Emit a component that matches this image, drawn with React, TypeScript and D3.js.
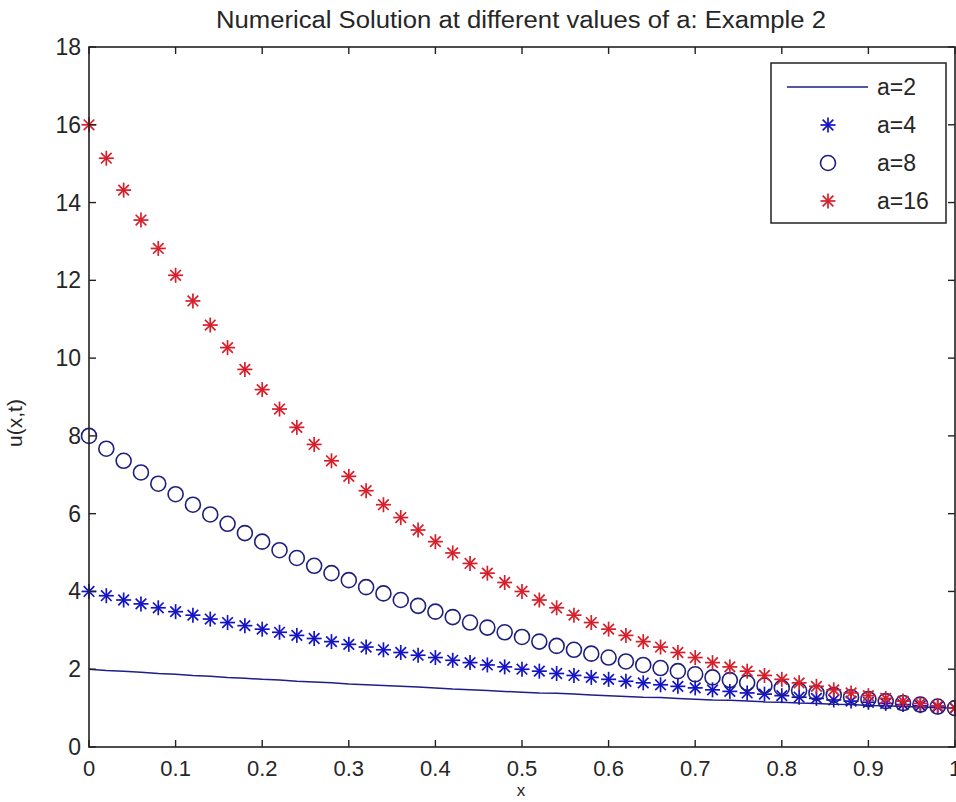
import React from "react";
import * as d3 from "d3";

const xValues: number[] = [
  0, 0.02, 0.04, 0.06, 0.08, 0.1, 0.12, 0.14, 0.16, 0.18, 0.2, 0.22, 0.24, 0.26, 0.28, 0.3, 0.32, 0.34,
  0.36, 0.38, 0.4, 0.42, 0.44, 0.46, 0.48, 0.5, 0.52, 0.54, 0.56, 0.58, 0.6, 0.62, 0.64, 0.66, 0.68, 0.7,
  0.72, 0.74, 0.76, 0.78, 0.8, 0.82, 0.84, 0.86, 0.88, 0.9, 0.92, 0.94, 0.96, 0.98, 1.0,
];

const a2: number[] = [
  2.0, 1.97, 1.95, 1.92, 1.89, 1.87, 1.84, 1.82, 1.79, 1.77, 1.74, 1.72, 1.69, 1.67, 1.65, 1.62, 1.6,
  1.58, 1.56, 1.54, 1.52, 1.49, 1.47, 1.45, 1.43, 1.41, 1.39, 1.38, 1.36, 1.34, 1.32, 1.3, 1.28, 1.27,
  1.25, 1.23, 1.21, 1.2, 1.18, 1.16, 1.15, 1.13, 1.12, 1.1, 1.09, 1.07, 1.06, 1.04, 1.03, 1.01, 1.0,
];

const a4: number[] = [
  4.0, 3.89, 3.78, 3.68, 3.58, 3.48, 3.39, 3.29, 3.2, 3.12, 3.03, 2.95, 2.87, 2.79, 2.71, 2.64, 2.57,
  2.5, 2.43, 2.36, 2.3, 2.23, 2.17, 2.11, 2.06, 2.0, 1.95, 1.89, 1.84, 1.79, 1.74, 1.69, 1.65, 1.6,
  1.56, 1.52, 1.47, 1.43, 1.39, 1.36, 1.32, 1.28, 1.25, 1.21, 1.18, 1.15, 1.12, 1.09, 1.06, 1.03, 1.0,
];

const a8: number[] = [
  8.0, 7.67, 7.36, 7.06, 6.77, 6.5, 6.23, 5.98, 5.74, 5.5, 5.28, 5.06, 4.86, 4.66, 4.47, 4.29, 4.11,
  3.95, 3.78, 3.63, 3.48, 3.34, 3.2, 3.07, 2.95, 2.83, 2.71, 2.6, 2.5, 2.4, 2.3, 2.2, 2.11, 2.03, 1.95,
  1.87, 1.79, 1.72, 1.65, 1.58, 1.52, 1.45, 1.39, 1.34, 1.28, 1.23, 1.18, 1.13, 1.09, 1.04, 1.0,
];

const a16: number[] = [
  16.0, 15.14, 14.32, 13.55, 12.82, 12.13, 11.47, 10.85, 10.27, 9.71, 9.19, 8.69, 8.22, 7.78, 7.36,
  6.96, 6.59, 6.23, 5.9, 5.58, 5.28, 4.99, 4.72, 4.47, 4.23, 4.0, 3.78, 3.58, 3.39, 3.2, 3.03, 2.87,
  2.71, 2.57, 2.43, 2.3, 2.17, 2.06, 1.95, 1.84, 1.74, 1.65, 1.56, 1.47, 1.39, 1.32, 1.25, 1.18, 1.12,
  1.06, 1.0,
];

const xTicks: number[] = [0, 0.1, 0.2, 0.3, 0.4, 0.5, 0.6, 0.7, 0.8, 0.9, 1];
const xTickLabels: string[] = ["0", "0.1", "0.2", "0.3", "0.4", "0.5", "0.6", "0.7", "0.8", "0.9", "1"];
const yTicks: number[] = [0, 2, 4, 6, 8, 10, 12, 14, 16, 18];
const legendLabels: string[] = ["a=2", "a=4", "a=8", "a=16"];

const W = 956;
const H = 802;
const L = 89;
const R = 955;
const T = 47;
const B = 747;
const FONT = "'Liberation Sans', Arial, sans-serif";
const TEXT = "#262626";
const AXIS = "#222222";
const LINE_BLUE = "#1e1e8c";
const STAR_BLUE = "#1414c4";
const CIRCLE_BLUE = "#1f1f7e";
const RED = "#d61f2a";
const FS = 23;

function Star({ x, y, color }: { x: number; y: number; color: string }) {
  const p = 7.5;
  const d = 5.3;
  return (
    <g stroke={color} strokeWidth={1.7} fill="none">
      <line x1={x - p} y1={y} x2={x + p} y2={y} />
      <line x1={x} y1={y - p} x2={x} y2={y + p} />
      <line x1={x - d} y1={y - d} x2={x + d} y2={y + d} />
      <line x1={x - d} y1={y + d} x2={x + d} y2={y - d} />
    </g>
  );
}

export default function App() {
  const xScale = d3.scaleLinear().domain([0, 1]).range([L, R]);
  const yScale = d3.scaleLinear().domain([0, 18]).range([B, T]);
  const tick = 7;

  const linePath =
    d3
      .line<number>()
      .x((_, i) => xScale(xValues[i]))
      .y((v) => yScale(v))(a2) || "";

  const legX = 771;
  const legY = 63;
  const legW = 175;
  const legH = 160;
  const rowY = [87, 125, 163, 201];
  const markX = 828;
  const textX = 877;

  return (
    <svg
      width={W}
      height={H}
      style={{ position: "absolute", left: 0, top: 0, background: "#fff" }}
      fontFamily={FONT}
    >
      <rect x={0} y={0} width={W} height={H} fill="#ffffff" />
      <text
        x={521}
        y={28}
        textAnchor="middle"
        fontSize={23}
        fill={TEXT}
        textLength={610}
        lengthAdjust="spacingAndGlyphs"
      >
        Numerical Solution at different values of a: Example 2
      </text>

      {/* data */}
      <path d={linePath} fill="none" stroke={LINE_BLUE} strokeWidth={1.5} />
      {a4.map((v, i) => (
        <Star key={"s4" + i} x={xScale(xValues[i])} y={yScale(v)} color={STAR_BLUE} />
      ))}
      {a8.map((v, i) => (
        <circle
          key={"c8" + i}
          cx={xScale(xValues[i])}
          cy={yScale(v)}
          r={7.5}
          fill="none"
          stroke={CIRCLE_BLUE}
          strokeWidth={1.6}
        />
      ))}
      {a16.map((v, i) => (
        <Star key={"s16" + i} x={xScale(xValues[i])} y={yScale(v)} color={RED} />
      ))}

      {/* axes box */}
      <rect x={L} y={T} width={R - L} height={B - T} fill="none" stroke={AXIS} strokeWidth={1.6} />
      {xTicks.map((t, i) => (
        <g key={"xt" + i}>
          <line x1={xScale(t)} y1={B} x2={xScale(t)} y2={B - tick} stroke={AXIS} strokeWidth={1.4} />
          <line x1={xScale(t)} y1={T} x2={xScale(t)} y2={T + tick} stroke={AXIS} strokeWidth={1.4} />
          <text x={xScale(t)} y={776} textAnchor="middle" fontSize={22} fill={TEXT}>
            {xTickLabels[i]}
          </text>
        </g>
      ))}
      {yTicks.map((t, i) => (
        <g key={"yt" + i}>
          <line x1={L} y1={yScale(t)} x2={L + tick} y2={yScale(t)} stroke={AXIS} strokeWidth={1.4} />
          <line x1={R} y1={yScale(t)} x2={R - tick} y2={yScale(t)} stroke={AXIS} strokeWidth={1.4} />
          <text x={81} y={yScale(t) + 8} textAnchor="end" fontSize={FS} fill={TEXT}>
            {String(t)}
          </text>
        </g>
      ))}

      <text x={521} y={796} textAnchor="middle" fontSize={17} fill={TEXT}>
        x
      </text>
      <text
        transform={`translate(22,423) rotate(-90)`}
        textAnchor="middle"
        fontSize={21}
        fill={TEXT}
      >
        u(x,t)
      </text>

      {/* legend */}
      <rect x={legX} y={legY} width={legW} height={legH} fill="#ffffff" stroke={AXIS} strokeWidth={1.5} />
      <line x1={787} y1={rowY[0]} x2={868} y2={rowY[0]} stroke={LINE_BLUE} strokeWidth={1.5} />
      <Star x={markX} y={rowY[1]} color={STAR_BLUE} />
      <circle cx={markX} cy={rowY[2]} r={7.5} fill="none" stroke={CIRCLE_BLUE} strokeWidth={1.6} />
      <Star x={markX} y={rowY[3]} color={RED} />
      {legendLabels.map((lab, i) => (
        <text key={"lg" + i} x={textX} y={rowY[i] + 8} fontSize={FS} fill={TEXT}>
          {lab}
        </text>
      ))}
    </svg>
  );
}
